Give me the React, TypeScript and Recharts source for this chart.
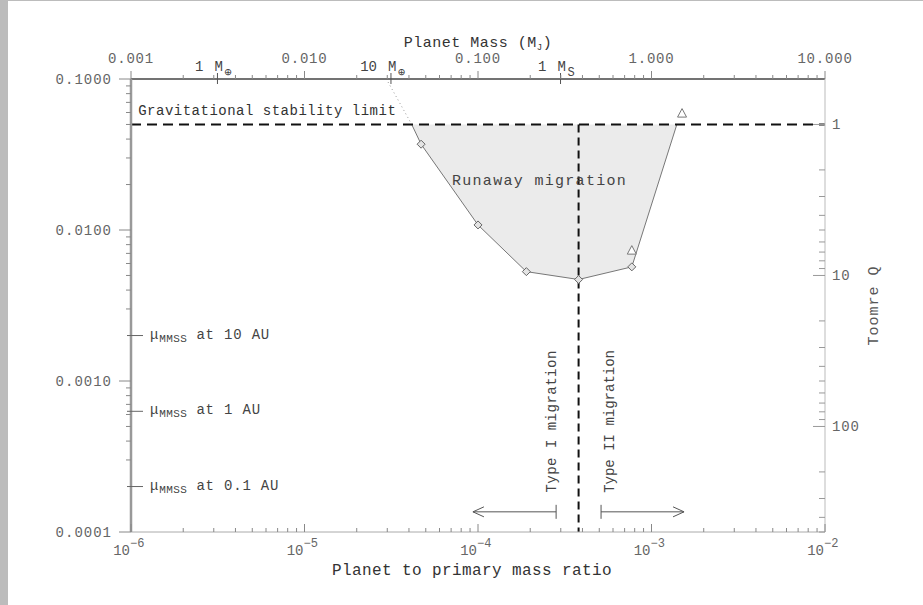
import React from "react";
import {
  ComposedChart,
  XAxis,
  YAxis,
  Area,
  Scatter,
  ReferenceLine,
  ReferenceDot,
} from "recharts";

// edge of the runaway migration region (planet/star mass ratio, disc mass mu)
const runawayRatio = [4.15e-5, 4.7e-5, 1.0e-4, 1.9e-4, 3.8e-4, 7.7e-4, 1.4e-3];
const runawayMu = [0.05, 0.037, 0.0108, 0.0053, 0.0047, 0.0057, 0.05];

// runs
const diamondRatio = [4.7e-5, 1.0e-4, 1.9e-4, 3.8e-4, 7.7e-4];
const diamondMu = [0.037, 0.0108, 0.0053, 0.0047, 0.0057];
const triangleRatio = [7.7e-4, 1.5e-3];
const triangleMu = [0.0073, 0.059];

const stabilityMu = 0.05; // Toomre Q = 1
const typeSplitRatio = 3.8e-4;
const extendRatio = [3.03e-5, 4.15e-5];
const extendMu = [0.0955, 0.05];

const typeIArrow = [2.82e-4, 9.35e-5];
const typeIIArrow = [5.12e-4, 1.54e-3];
const arrowMu = 1.36e-4;

const mmssMu = [0.002, 0.00063, 0.0002];
const mmssLabels = ["10 AU", "1 AU", "0.1 AU"];

// axes
const ratioDecades = [1e-6, 1e-5, 1e-4, 1e-3, 1e-2];
const muDecades = [1e-4, 1e-3, 1e-2, 1e-1];
const muDecadeLabels = ["0.0001", "0.0010", "0.0100", "0.1000"];
const massDecades = [0.001, 0.01, 0.1, 1, 10];
const massDecadeLabels = ["0.001", "0.010", "0.100", "1.000", "10.000"];
const bodyMass = [0.00315, 0.0315, 0.299];
const bodyCount = ["1", "10", "1"];
const bodySymbol = ["\u2295", "\u2295", "S"];
const qDecades = [1, 10, 100];
const qLabels = ["1", "10", "100"];

const FONT = "'Liberation Mono', 'DejaVu Sans Mono', monospace";
const TXT = "#444";

const near = (a: number, b: number) => Math.abs(a / b - 1) < 1e-6;
const uniq = (arr: number[]) =>
  Array.from(new Set(arr.map((v) => +v.toPrecision(6)))).sort((a, b) => a - b);
const minors = (decades: number[], max: number) =>
  decades.flatMap((d) => [2, 3, 4, 5, 6, 7, 8, 9].map((k) => d * k)).filter((v) => v < max * 1.0001);

const ratioTicks = uniq([...ratioDecades, ...minors(ratioDecades, 1e-2)]);
const muTicks = uniq([...muDecades, ...minors(muDecades, 0.1), ...mmssMu]);
const massTicks = uniq([...massDecades, ...minors(massDecades, 10), ...bodyMass]);
const qTicks = uniq([...qDecades, ...minors(qDecades, 500)]);

const runawayData = runawayRatio.map((r, i) => ({ ratio: r, mu: runawayMu[i] }));
const diamondData = diamondRatio.map((r, i) => ({ ratio: r, mu: diamondMu[i] }));
const triangleData = triangleRatio.map((r, i) => ({ ratio: r, mu: triangleMu[i] }));
// keeps the top (mass) axis alive, draws nothing
const massAxisData = massDecades.map((m) => ({ mass: m, mu: stabilityMu }));

function RatioTick(props: any) {
  const { x, y, payload } = props;
  const v = payload.value;
  const major = ratioDecades.some((d) => near(v, d));
  const exp = Math.round(Math.log10(v));
  return (
    <g>
      <line x1={x} x2={x} y1={y} y2={y - (major ? 8 : 4)} stroke="#888" />
      {major && (
        <g fill="#666" fontFamily={FONT}>
          <text x={x - 1} y={y + 23} textAnchor="end" fontSize={14}>
            10
          </text>
          <text x={x - 1} y={y + 15} fontSize={12}>
            {"\u2212" + Math.abs(exp)}
          </text>
        </g>
      )}
    </g>
  );
}

function MuTick(props: any) {
  const { x, y, payload } = props;
  const v = payload.value;
  const di = muDecades.findIndex((d) => near(v, d));
  const mi = mmssMu.findIndex((m) => near(v, m));
  if (mi >= 0) {
    return (
      <g>
        <line x1={x - 4} x2={x + 12} y1={y} y2={y} stroke="#666" />
        <text x={x + 19} y={y + 3} fontFamily={FONT} fontSize={14} fill={TXT} letterSpacing={0.8}>
          {"\u03bc"}
          <tspan fontSize={11} dy={3} letterSpacing={0.4}>
            MMSS
          </tspan>
          <tspan fontSize={14} dy={-3}>
            {" at " + mmssLabels[mi]}
          </tspan>
        </text>
      </g>
    );
  }
  return (
    <g>
      <line x1={x - (di >= 0 ? 12 : 5)} x2={x} y1={y} y2={y} stroke="#888" />
      {di >= 0 && (
        <text x={x - 19} y={y + 5} textAnchor="end" fontFamily={FONT} fontSize={14} fill="#666" letterSpacing={1}>
          {muDecadeLabels[di]}
        </text>
      )}
    </g>
  );
}

function MassTick(props: any) {
  const { x, y, payload } = props;
  const v = payload.value;
  const di = massDecades.findIndex((d) => near(v, d));
  const bi = bodyMass.findIndex((b) => near(v, b));
  if (bi >= 0) {
    return (
      <g fontFamily={FONT} fill={TXT}>
        <line x1={x} x2={x} y1={y + 5} y2={y - 6} stroke="#555" />
        <text x={x - 14} y={y - 8} textAnchor="end" fontSize={14}>
          {bodyCount[bi]}
        </text>
        <text x={x - 3} y={y - 8} fontSize={14}>
          M
        </text>
        <text x={x + 7} y={y - 3} fontSize={12}>
          {bodySymbol[bi]}
        </text>
      </g>
    );
  }
  return (
    <g>
      <line x1={x} x2={x} y1={y} y2={y - (di >= 0 ? 8 : 4)} stroke="#888" />
      {di >= 0 && (
        <text x={x} y={y - 16} textAnchor="middle" fontFamily={FONT} fontSize={14} fill="#666" letterSpacing={0.8}>
          {massDecadeLabels[di]}
        </text>
      )}
    </g>
  );
}

function QTick(props: any) {
  const { x, y, payload } = props;
  const v = payload.value;
  const di = qDecades.findIndex((d) => near(v, d));
  return (
    <g>
      <line x1={x - (di >= 0 ? 12 : 6)} x2={x} y1={y} y2={y} stroke="#999" />
      {di >= 0 && (
        <text x={x + 7} y={y + 5} fontFamily={FONT} fontSize={14} fill="#666" letterSpacing={0.8}>
          {qLabels[di]}
        </text>
      )}
    </g>
  );
}

const diamond = (p: any) => (
  <path
    d={`M${p.cx},${p.cy - 4}L${p.cx + 4},${p.cy}L${p.cx},${p.cy + 4}L${p.cx - 4},${p.cy}Z`}
    fill="#e4e4e4"
    stroke="#666"
    strokeWidth={1}
  />
);

const triangle = (p: any) => (
  <path
    d={`M${p.cx},${p.cy - 5}L${p.cx + 4.5},${p.cy + 3.5}L${p.cx - 4.5},${p.cy + 3.5}Z`}
    fill="#fff"
    stroke="#777"
    strokeWidth={1}
  />
);

const nothing = () => <g />;

// arrow with a bar at the start and a head at the end
const arrow = (p: any) => {
  const { x1, y1, x2, y2 } = p;
  const dir = x2 > x1 ? 1 : -1;
  return (
    <g stroke="#555" strokeWidth={1} fill="none">
      <line x1={x1} y1={y1} x2={x2} y2={y2} />
      <line x1={x1} y1={y1 - 7} x2={x1} y2={y1 + 7} />
      <path d={`M${x2 - dir * 11},${y2 - 5}L${x2},${y2}L${x2 - dir * 11},${y2 + 5}`} />
    </g>
  );
};

const textAt =
  (label: string, opts: { size?: number; rotate?: number; anchor?: string; fill?: string; spacing?: number }) =>
  (p: any) => (
    <text
      x={p.cx}
      y={p.cy}
      transform={opts.rotate ? `rotate(${opts.rotate} ${p.cx} ${p.cy})` : undefined}
      textAnchor={opts.anchor || "start"}
      fontFamily={FONT}
      fontSize={opts.size || 14}
      fill={opts.fill || "#333"}
      letterSpacing={opts.spacing ?? 0.5}
    >
      {label}
    </text>
  );

export default function App() {
  return (
    <div style={{ position: "absolute", left: 0, top: 0, width: 923, height: 605, background: "#fff" }}>
      <div style={{ position: "absolute", left: 0, top: 0, width: 8, height: 605, background: "#bcbcbc" }} />
      <div style={{ position: "absolute", left: 0, top: 0, width: 923, height: 1, background: "#bcbcbc" }} />
      <ComposedChart width={923} height={605} margin={{ top: 39, right: 38, bottom: 33, left: 71 }}>
        <XAxis
          xAxisId="ratio"
          dataKey="ratio"
          type="number"
          scale="log"
          domain={[1e-6, 1e-2]}
          allowDataOverflow
          ticks={ratioTicks}
          interval={0}
          tick={(p: any) => <RatioTick {...p} />}
          tickLine={false}
          tickSize={0}
          tickMargin={0}
          axisLine={{ stroke: "#aaa" }}
          height={40}
          orientation="bottom"
          label={{
            content: (p: any) => (
              <text
                x={p.viewBox.x + p.viewBox.width / 2 - 6}
                y={p.viewBox.y + 43}
                textAnchor="middle"
                fontFamily={FONT}
                fontSize={16}
                letterSpacing={0.4}
                fill="#333"
              >
                Planet to primary mass ratio
              </text>
            ),
          }}
        />
        <XAxis
          xAxisId="mass"
          dataKey="mass"
          type="number"
          scale="log"
          domain={[0.001, 10]}
          allowDataOverflow
          ticks={massTicks}
          interval={0}
          tick={(p: any) => <MassTick {...p} />}
          tickLine={false}
          tickSize={0}
          tickMargin={0}
          axisLine={{ stroke: "#444", strokeWidth: 1.5 }}
          height={40}
          orientation="top"
          label={{
            content: (p: any) => (
              <text
                x={p.viewBox.x + p.viewBox.width / 2}
                y={p.viewBox.y + 8}
                textAnchor="middle"
                fontFamily={FONT}
                fontSize={15}
                letterSpacing={0.5}
                fill="#333"
              >
                Planet Mass (M
                <tspan fontSize={9} dy={3}>
                  J
                </tspan>
                <tspan dy={-3}>)</tspan>
              </text>
            ),
          }}
        />
        <YAxis
          yAxisId="mu"
          dataKey="mu"
          type="number"
          scale="log"
          domain={[1e-4, 0.1]}
          allowDataOverflow
          ticks={muTicks}
          interval={0}
          tick={(p: any) => <MuTick {...p} />}
          tickLine={false}
          tickSize={0}
          tickMargin={0}
          axisLine={{ stroke: "#999", strokeWidth: 2.5 }}
          width={60}
          orientation="left"
        />
        <YAxis
          yAxisId="q"
          type="number"
          scale="log"
          domain={[stabilityMu / 0.1, stabilityMu / 1e-4]}
          reversed
          allowDataOverflow
          ticks={qTicks}
          interval={0}
          tick={(p: any) => <QTick {...p} />}
          tickLine={false}
          tickSize={0}
          tickMargin={0}
          axisLine={{ stroke: "#bbb" }}
          width={60}
          orientation="right"
          label={{
            content: (p: any) => {
              const cx = p.viewBox.x + 53;
              const cy = p.viewBox.y + p.viewBox.height / 2;
              return (
                <text
                  x={cx}
                  y={cy}
                  transform={`rotate(-90 ${cx} ${cy})`}
                  textAnchor="middle"
                  fontFamily={FONT}
                  fontSize={15}
                  letterSpacing={1}
                  fill="#555"
                >
                  Toomre Q
                </text>
              );
            },
          }}
        />

        <Area
          xAxisId="ratio"
          yAxisId="mu"
          data={runawayData}
          dataKey="mu"
          type="linear"
          baseValue={stabilityMu}
          stroke="#777"
          strokeWidth={1}
          fill="#ebebeb"
          fillOpacity={1}
          dot={false}
          activeDot={false}
          isAnimationActive={false}
        />
        <ReferenceLine
          xAxisId="ratio"
          yAxisId="mu"
          segment={[
            { x: extendRatio[0], y: extendMu[0] },
            { x: extendRatio[1], y: extendMu[1] },
          ]}
          stroke="#999"
          strokeDasharray="1 3"
        />
        <ReferenceLine
          xAxisId="ratio"
          yAxisId="mu"
          y={stabilityMu}
          stroke="#111"
          strokeWidth={2}
          strokeDasharray="10 6"
        />
        <ReferenceLine
          xAxisId="ratio"
          yAxisId="mu"
          segment={[
            { x: typeSplitRatio, y: stabilityMu },
            { x: typeSplitRatio, y: 1e-4 },
          ]}
          stroke="#111"
          strokeWidth={2}
          strokeDasharray="8 5"
        />
        <ReferenceLine
          xAxisId="ratio"
          yAxisId="mu"
          segment={[
            { x: typeIArrow[0], y: arrowMu },
            { x: typeIArrow[1], y: arrowMu },
          ]}
          shape={arrow}
        />
        <ReferenceLine
          xAxisId="ratio"
          yAxisId="mu"
          segment={[
            { x: typeIIArrow[0], y: arrowMu },
            { x: typeIIArrow[1], y: arrowMu },
          ]}
          shape={arrow}
        />

        <ReferenceDot
          xAxisId="ratio"
          yAxisId="mu"
          x={1.1e-6}
          y={0.0578}
          r={0}
          shape={textAt("Gravitational stability limit", { size: 14, spacing: 0.5 })}
        />
        <ReferenceDot
          xAxisId="ratio"
          yAxisId="mu"
          x={7.08e-5}
          y={0.0199}
          r={0}
          shape={textAt("Runaway migration", { size: 15, spacing: 1.3, fill: "#444" })}
        />
        <ReferenceDot
          xAxisId="ratio"
          yAxisId="mu"
          x={2.82e-4}
          y={5.4e-4}
          r={0}
          shape={textAt("Type I migration", { size: 14, rotate: -90, anchor: "middle", spacing: 0.5, fill: "#444" })}
        />
        <ReferenceDot
          xAxisId="ratio"
          yAxisId="mu"
          x={6.1e-4}
          y={5.4e-4}
          r={0}
          shape={textAt("Type II migration", { size: 14, rotate: -90, anchor: "middle", spacing: 0, fill: "#444" })}
        />

        <Scatter xAxisId="mass" yAxisId="mu" data={massAxisData} shape={nothing} isAnimationActive={false} />
        <Scatter xAxisId="ratio" yAxisId="mu" data={diamondData} shape={diamond} isAnimationActive={false} />
        <Scatter xAxisId="ratio" yAxisId="mu" data={triangleData} shape={triangle} isAnimationActive={false} />
      </ComposedChart>
    </div>
  );
}
